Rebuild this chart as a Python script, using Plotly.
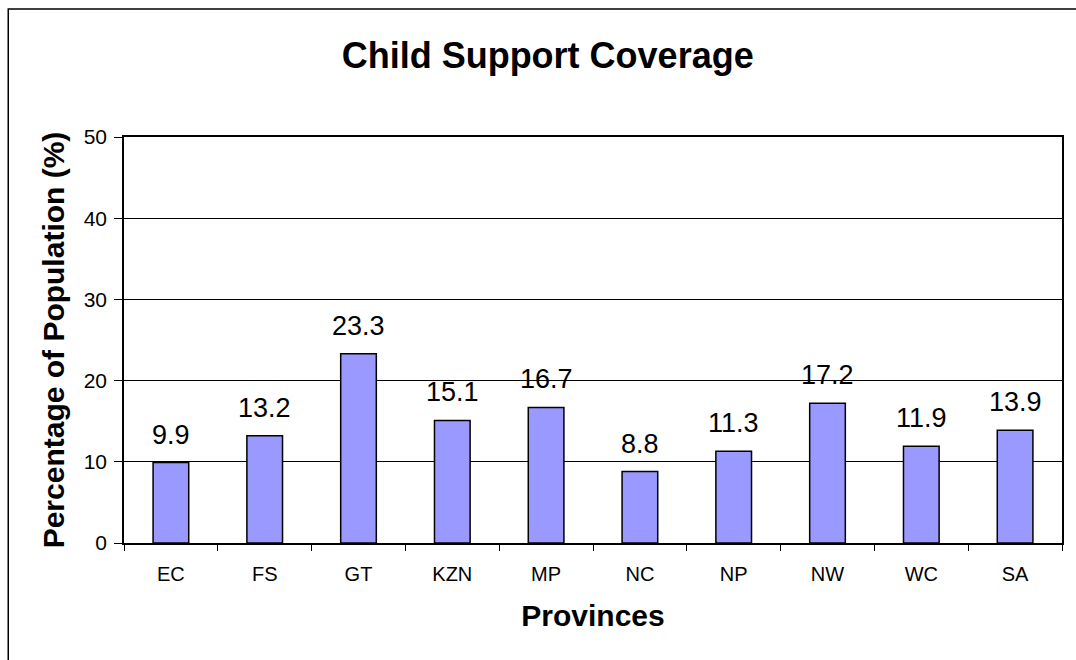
import plotly.graph_objects as go

provinces = ["EC", "FS", "GT", "KZN", "MP", "NC", "NP", "NW", "WC", "SA"]
coverage = [9.9, 13.2, 23.3, 15.1, 16.7, 8.8, 11.3, 17.2, 11.9, 13.9]
y_ticks = [0, 10, 20, 30, 40, 50]

FONT = "Arial, Liberation Sans, sans-serif"

fig = go.Figure()
fig.add_trace(go.Bar(
    x=provinces, y=coverage,
    marker=dict(color="#9999FF", line=dict(color="black", width=1.5)),
    width=0.38,
    showlegend=False,
))

for p, v in zip(provinces, coverage):
    fig.add_annotation(x=p, y=v, text=f"{v:.1f}", showarrow=False,
                       yanchor="bottom", yshift=11,
                       font=dict(family=FONT, size=27, color="black"))

fig.update_layout(
    width=1076, height=660,
    margin=dict(l=124, r=12, t=137, b=117),
    paper_bgcolor="white", plot_bgcolor="white",
    font=dict(family=FONT, color="black"),
    title=dict(text="<b>Child Support Coverage</b>", x=0.509, xanchor="center",
               y=1 - 55/660, yanchor="middle", font=dict(size=36)),
    xaxis=dict(
        title=dict(text="<b>Provinces</b>", font=dict(size=30), standoff=21),
        tickfont=dict(size=20), ticklabelstandoff=12,
        showline=True, linecolor="black", linewidth=1.5, mirror=True,
        ticks="outside", tickson="boundaries", ticklen=6, tickcolor="black",
        showgrid=False,
    ),
    yaxis=dict(
        title=dict(text="<b>Percentage of Population (%)</b>", font=dict(size=30), standoff=10),
        range=[0, 50], tickvals=y_ticks, tickfont=dict(size=21), ticklabelstandoff=3,
        showline=True, linecolor="black", linewidth=1.5, mirror=True,
        ticks="outside", ticklen=8, tickcolor="black",
        showgrid=True, gridcolor="black", gridwidth=1.2, zeroline=False,
    ),
    shapes=[dict(type="rect", xref="paper", yref="paper",
                 x0=-116/940, x1=1.05, y0=-0.5, y1=1 + 128/406,
                 line=dict(color="black", width=1.5), fillcolor="rgba(0,0,0,0)", layer="above")],
)

fig.write_html("out.html")
